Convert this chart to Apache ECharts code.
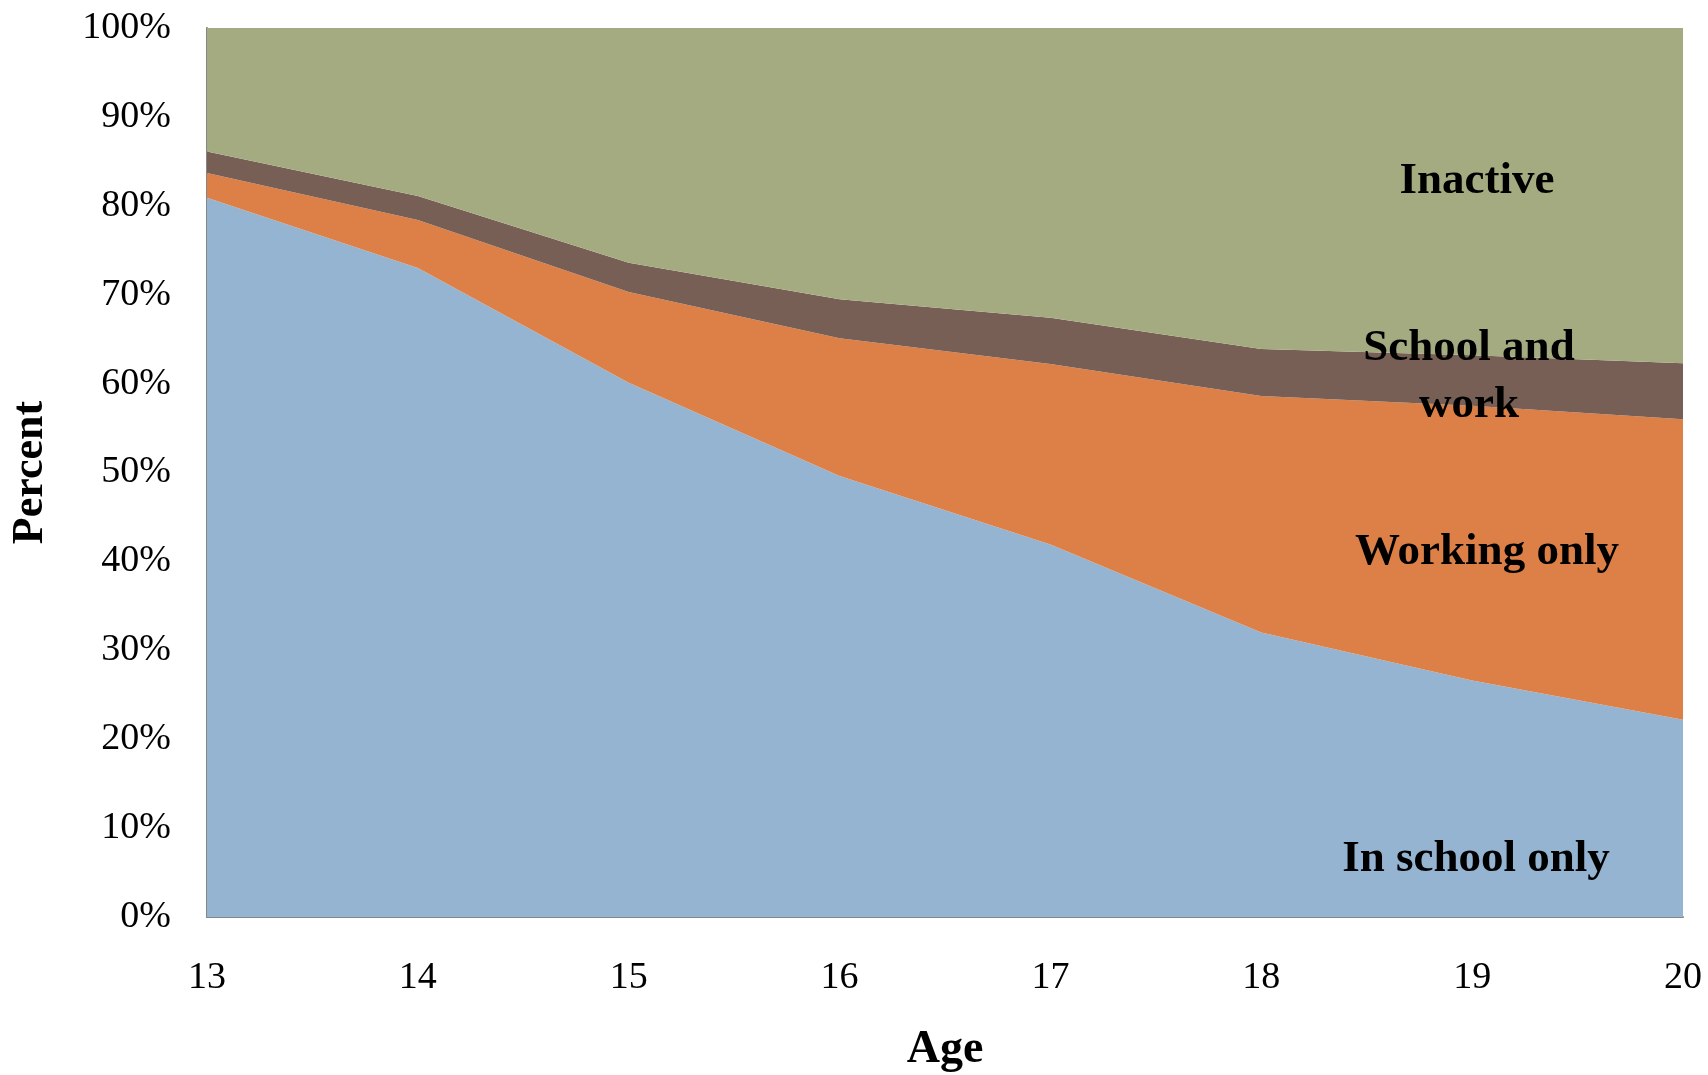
<!DOCTYPE html>
<html>
<head>
<meta charset="utf-8">
<script src="https://cdn.jsdelivr.net/npm/echarts@6/dist/echarts.min.js"></script>
<style>
  html, body { margin: 0; padding: 0; background: #ffffff; }
  #chart { width: 1708px; height: 1075px; }
</style>
</head>
<body>
<div id="chart"></div>
<script>
// Activity status by age, shares in percent (stacked to 100%)
const ages = ['13', '14', '15', '16', '17', '18', '19', '20'];
const inSchoolOnly  = [80.9, 73.0, 60.1, 49.6, 41.9, 32.0, 26.6, 22.2];
const workingOnly   = [2.8, 5.4, 10.2, 15.5, 20.3, 26.6, 30.9, 33.8];
const schoolAndWork = [2.4, 2.7, 3.3, 4.4, 5.2, 5.3, 5.7, 6.3];
const inactive      = [13.9, 18.9, 26.4, 30.5, 32.6, 36.1, 36.8, 37.7];

const seriesNames = ['In school only', 'Working only', 'School and work', 'Inactive'];
const seriesColors = ['#94B4D2', '#DD8047', '#775F55', '#A5AB81'];
const seriesData = [inSchoolOnly, workingOnly, schoolAndWork, inactive];

const FONT = '"Liberation Serif", "Times New Roman", serif';

const chart = echarts.init(document.getElementById('chart'), null, { renderer: 'canvas' });

function areaSeries(i) {
  return {
    name: seriesNames[i],
    type: 'line',
    stack: 'total',
    data: seriesData[i],
    symbol: 'none',
    lineStyle: { width: 0 },
    areaStyle: { color: seriesColors[i], opacity: 1 },
    itemStyle: { color: seriesColors[i] },
    silent: true,
    animation: false
  };
}

// In-chart category labels
function label(text, x, y) {
  return {
    type: 'text',
    x: x,
    y: y,
    style: {
      text: text,
      font: 'bold 45px ' + FONT,
      fill: '#000000',
      align: 'center',
      verticalAlign: 'middle',
      lineHeight: 57
    },
    z: 100
  };
}

chart.setOption({
  animation: false,
  backgroundColor: '#ffffff',
  grid: { left: 207, right: 25, top: 28, bottom: 158, containLabel: false, outerBoundsMode: 'none' },
  xAxis: {
    type: 'category',
    data: ages,
    boundaryGap: false,
    name: 'Age',
    nameLocation: 'middle',
    nameGap: 110,
    nameTextStyle: { fontFamily: FONT, fontWeight: 'bold', fontSize: 46, color: '#000' },
    axisLine: { show: true, lineStyle: { color: '#868686', width: 2 } },
    axisTick: { show: false },
    axisLabel: { fontFamily: FONT, fontSize: 38, color: '#000', margin: 42 },
    splitLine: { show: false }
  },
  yAxis: {
    type: 'value',
    min: 0,
    max: 100,
    interval: 10,
    name: 'Percent',
    nameLocation: 'middle',
    nameGap: 154,
    nameRotate: 90,
    nameTextStyle: { fontFamily: FONT, fontWeight: 'bold', fontSize: 44, color: '#000' },
    axisLine: { show: true, lineStyle: { color: '#868686', width: 2 } },
    axisTick: { show: false },
    axisLabel: { fontFamily: FONT, fontSize: 38, color: '#000', margin: 36, formatter: '{value}%' },
    splitLine: { show: false }
  },
  series: [0, 1, 2, 3].map(areaSeries),
  graphic: [
    label('Inactive', 1477, 181),
    label('School and\nwork', 1469, 377),
    label('Working only', 1487, 552),
    label('In school only', 1476, 859)
  ]
});
</script>
</body>
</html>
